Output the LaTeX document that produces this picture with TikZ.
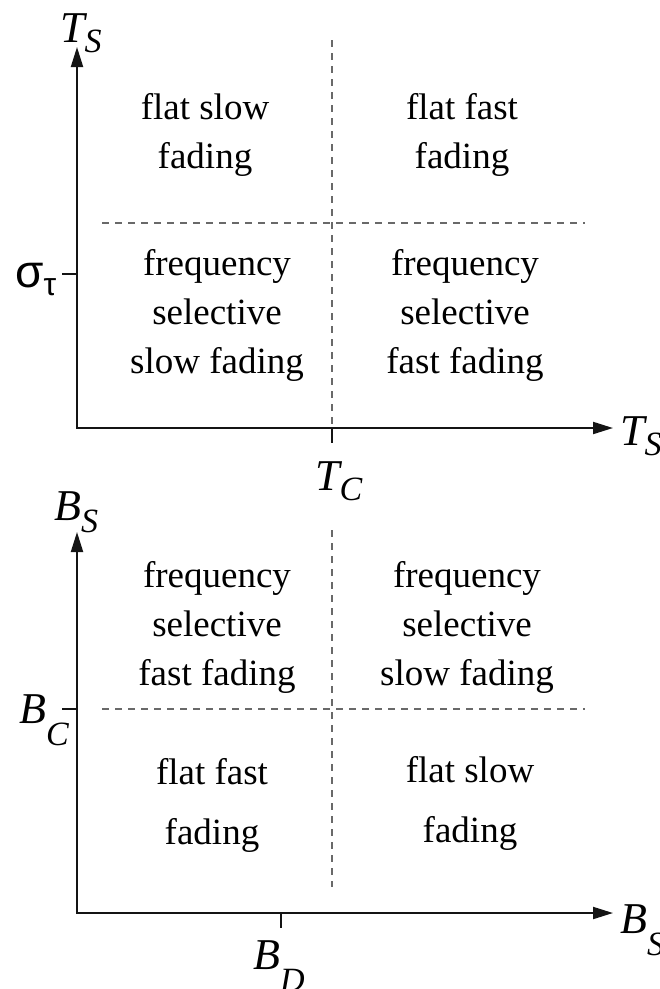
\documentclass[tikz,border=0pt]{standalone}
\usepackage{fontspec}
\setmainfont{Liberation Serif}
\newfontfamily\greekfont{Liberation Sans}
\usepackage{tikz}
\usetikzlibrary{arrows.meta}
\definecolor{axisblack}{RGB}{20,20,20}
\definecolor{dashgrey}{RGB}{105,105,105}
\newcommand{\axlab}[3]{#1\raisebox{-#3pt}{\fontsize{34}{34}\selectfont #2}}
\tikzset{
  region/.style={font=\fontsize{37}{49}\selectfont, align=center, inner sep=0pt},
  regionwide/.style={region, font=\fontsize{37}{60}\selectfont},
  axlabel/.style={font=\fontsize{44}{44}\selectfont\itshape, anchor=base west, inner sep=0pt},
  axis/.style={draw=axisblack, line width=2pt, {Triangle[length=20pt,width=12pt]}-{Triangle[length=20pt,width=12pt]}},
  tick/.style={draw=axisblack, line width=1.6pt},
  split/.style={draw=dashgrey, line width=1.2pt, dash pattern=on 7pt off 6pt},
}
\begin{document}
\begin{tikzpicture}[x=1pt,y=-1pt]
  \useasboundingbox (0,0) rectangle (660,989);
  % symbol time plane
  \coordinate (oT) at (77,428);
  \coordinate (yT) at (77,47);
  \coordinate (xT) at (613,428);
  \coordinate (tcT) at (332,443);
  \coordinate (tcB) at (332,428);
  \coordinate (sgL) at (62,274);
  \coordinate (sgR) at (77,274);
  \draw[axis] (yT) -- (oT) -- (xT);
  \draw[tick] (tcB) -- (tcT);
  \draw[tick] (sgL) -- (sgR);
  \coordinate (vdT1) at (332,40);
  \coordinate (vdT2) at (332,426);
  \coordinate (hdT1) at (102,223);
  \coordinate (hdT2) at (585,223);
  \draw[split] (vdT1) -- (vdT2);
  \draw[split] (hdT1) -- (hdT2);
  \node[axlabel] (tsy) at (60,42) {\axlab{T}{S}{10}};
  \node[axlabel] (tsx) at (620,445) {\axlab{T}{S}{10}};
  \node[axlabel] (tc) at (315,490) {\axlab{T}{C}{10}};
  \node[font=\fontsize{46}{46}\selectfont\greekfont, anchor=base west, inner sep=0pt] (sig) at (15,287) {σ\raisebox{-8pt}{\fontsize{32}{32}\selectfont τ}};
  \node[region] (flatslowT) at (205,135) {flat slow\\fading};
  \node[region] (flatfastT) at (462,135) {flat fast\\fading};
  \node[region] (selslowT) at (217,315) {frequency\\selective\\slow fading};
  \node[region] (selfastT) at (465,315) {frequency\\selective\\fast fading};
  % bandwidth plane
  \coordinate (oB) at (77,913);
  \coordinate (yB) at (77,532);
  \coordinate (xB) at (613,913);
  \coordinate (bdT) at (281,928);
  \coordinate (bdB) at (281,913);
  \coordinate (bcL) at (62,709);
  \coordinate (bcR) at (77,709);
  \draw[axis] (yB) -- (oB) -- (xB);
  \draw[tick] (bdB) -- (bdT);
  \draw[tick] (bcL) -- (bcR);
  \coordinate (vdB1) at (332,530);
  \coordinate (vdB2) at (332,887);
  \coordinate (hdB1) at (102,709);
  \coordinate (hdB2) at (585,709);
  \draw[split] (vdB1) -- (vdB2);
  \draw[split] (hdB1) -- (hdB2);
  \node[axlabel] (bsy) at (54,520) {\axlab{B}{S}{12}};
  \node[axlabel] (bsx) at (620,933) {\axlab{B}{S}{22}};
  \node[axlabel] (bc) at (19,723) {\axlab{B}{C}{22}};
  \node[axlabel] (bd) at (253,969) {\axlab{B}{D}{22}};
  \node[region] (selfastB) at (217,627) {frequency\\selective\\fast fading};
  \node[region] (selslowB) at (467,627) {frequency\\selective\\slow fading};
  \node[regionwide] (flatfastB) at (212,805) {flat fast\\fading};
  \node[regionwide] (flatslowB) at (470,803) {flat slow\\fading};
\end{tikzpicture}
\end{document}
